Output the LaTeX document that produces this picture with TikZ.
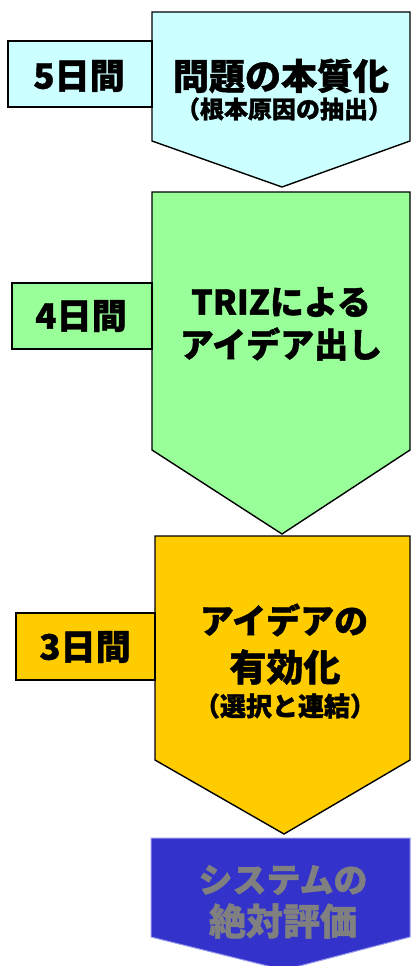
\documentclass[tikz,border=0pt]{standalone}
\usepackage{fontspec}
\newfontfamily\jp{Noto Sans CJK JP}[BoldFeatures={FakeBold=1.2}]
\definecolor{cyanf}{HTML}{CCFFFF}
\definecolor{greenf}{HTML}{99FF99}
\definecolor{yellowf}{HTML}{FFCC00}
\definecolor{bluef}{HTML}{3333CC}
\definecolor{blueline}{HTML}{9999EE}
\definecolor{grayt}{HTML}{808080}
\tikzset{
  shapeline/.style={draw=black, line width=1.4pt, line join=miter},
  daybox/.style={draw=black, line width=1.4pt},
  daytext/.style={font=\jp\bfseries\fontsize{35}{40}\selectfont, inner sep=0pt},
  bigtext/.style={font=\jp\bfseries\fontsize{34}{40}\selectfont, inner sep=0pt},
  smalltext/.style={font=\jp\bfseries\fontsize{24}{28}\selectfont, inner sep=0pt},
}
\begin{document}
\begin{tikzpicture}[x=1pt,y=-1pt]
\useasboundingbox (0,0) rectangle (411,966);
% stage 1
\draw[shapeline, fill=cyanf] (152,12) -- (410,12) -- (410,141) -- (282,187) -- (152,141) -- cycle;
\draw[daybox, fill=cyanf] (8,41) rectangle (152,107);
\node[daytext] (d1) at (79,76) {5日間};
\node[bigtext, font=\jp\bfseries\fontsize{36}{40}\selectfont] (t1a) at (281,76) {問題の本質化};
\node[smalltext] (t1b) at (284,109) {（根本原因の抽出）};
% stage 2
\draw[shapeline, fill=greenf] (152,192) -- (410,192) -- (410,450) -- (282,534) -- (152,450) -- cycle;
\draw[daybox, fill=greenf] (12,283) rectangle (152,349);
\node[daytext] (d2) at (81,316) {4日間};
\node[bigtext] (t2a) at (281,302) {TRIZによる};
\node[bigtext] (t2b) at (281,344) {アイデア出し};
% stage 3
\draw[shapeline, fill=yellowf] (155,536) -- (410,536) -- (410,760) -- (284,834) -- (155,760) -- cycle;
\draw[daybox, fill=yellowf] (16,613) rectangle (155,680);
\node[daytext] (d3) at (85,647) {3日間};
\node[bigtext] (t3a) at (284,620) {アイデアの};
\node[bigtext, font=\jp\bfseries\fontsize{37}{40}\selectfont] (t3b) at (285,667) {有効化};
\node[smalltext, font=\jp\bfseries\fontsize{26}{30}\selectfont] (t3c) at (285,706) {（選択と連結）};
% stage 4
\draw[draw=blueline, line width=1pt, fill=bluef] (151,838) -- (410,838) -- (410,937) -- (284,970) -- (151,937) -- cycle;
\node[bigtext, text=grayt] (t4a) at (283,880) {システムの};
\node[bigtext, text=grayt, font=\jp\bfseries\fontsize{37}{40}\selectfont] (t4b) at (283,921) {絶対評価};
\end{tikzpicture}
\end{document}
